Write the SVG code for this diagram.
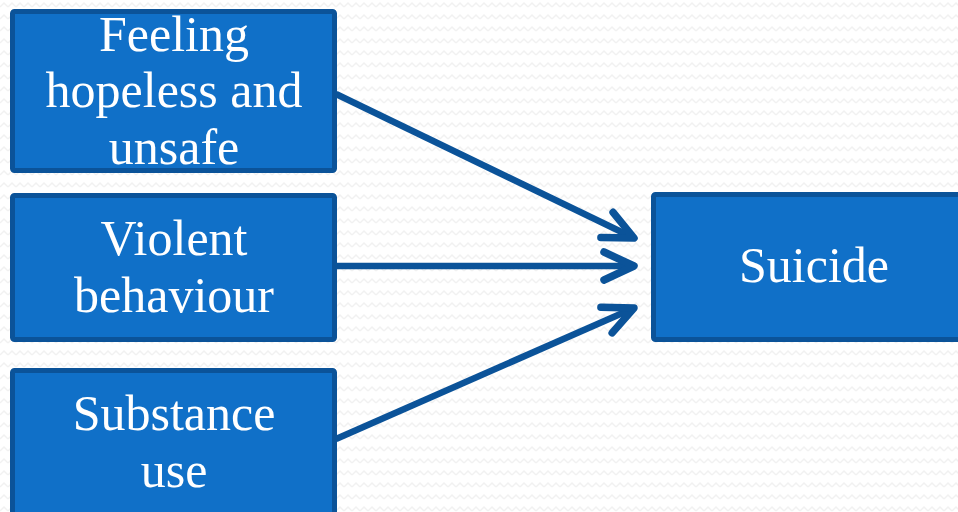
<svg xmlns="http://www.w3.org/2000/svg" width="958" height="512" viewBox="0 0 958 512">
  <defs>
    <pattern id="zig" width="8" height="12" patternUnits="userSpaceOnUse">
      <path d="M0 7 L4 3 L8 7" fill="none" stroke="#f1f1f1" stroke-width="1.5"/>
    </pattern>
    <marker id="chev" markerUnits="userSpaceOnUse" markerWidth="60" markerHeight="60" viewBox="-40 -30 60 60" refX="0" refY="0" orient="auto" overflow="visible">
      <path d="M-30 -14 L0 0 L-30 14" fill="none" stroke="#0b5399" stroke-width="7.5" stroke-linecap="round" stroke-linejoin="round"/>
    </marker>
  </defs>
  <style>
    .box { fill: #1070c8; stroke: #0b5399; stroke-width: 5; }
    .lbl { fill: #ffffff; font-family: "Liberation Serif", "DejaVu Serif", serif; font-size: 50px; text-anchor: middle; }
    .conn { stroke: #0b5399; stroke-width: 6.5; fill: none; marker-end: url(#chev); }
  </style>
  <rect x="0" y="0" width="958" height="512" fill="#ffffff"/>
  <rect x="0" y="0" width="958" height="512" fill="url(#zig)"/>

  <g id="connectors">
    <line class="conn" x1="336" y1="94" x2="634" y2="238"/>
    <line class="conn" x1="336" y1="266" x2="634" y2="266"/>
    <line class="conn" x1="336" y1="439" x2="634" y2="308"/>
  </g>

  <g id="node-feeling">
    <rect class="box" x="12.5" y="11.5" width="322" height="159" rx="2"/>
    <text class="lbl" x="174" y="51">Feeling</text>
    <text class="lbl" x="174" y="107">hopeless and</text>
    <text class="lbl" x="174" y="164">unsafe</text>
  </g>

  <g id="node-violent">
    <rect class="box" x="12.5" y="195.5" width="322" height="144" rx="2"/>
    <text class="lbl" x="174" y="255">Violent</text>
    <text class="lbl" x="174" y="312">behaviour</text>
  </g>

  <g id="node-substance">
    <rect class="box" x="12.5" y="370.5" width="322" height="160" rx="2"/>
    <text class="lbl" x="174" y="430">Substance</text>
    <text class="lbl" x="174" y="487">use</text>
  </g>

  <g id="node-suicide">
    <rect class="box" x="653.5" y="194.5" width="320" height="145" rx="2"/>
    <text class="lbl" x="814" y="282">Suicide</text>
  </g>
</svg>
